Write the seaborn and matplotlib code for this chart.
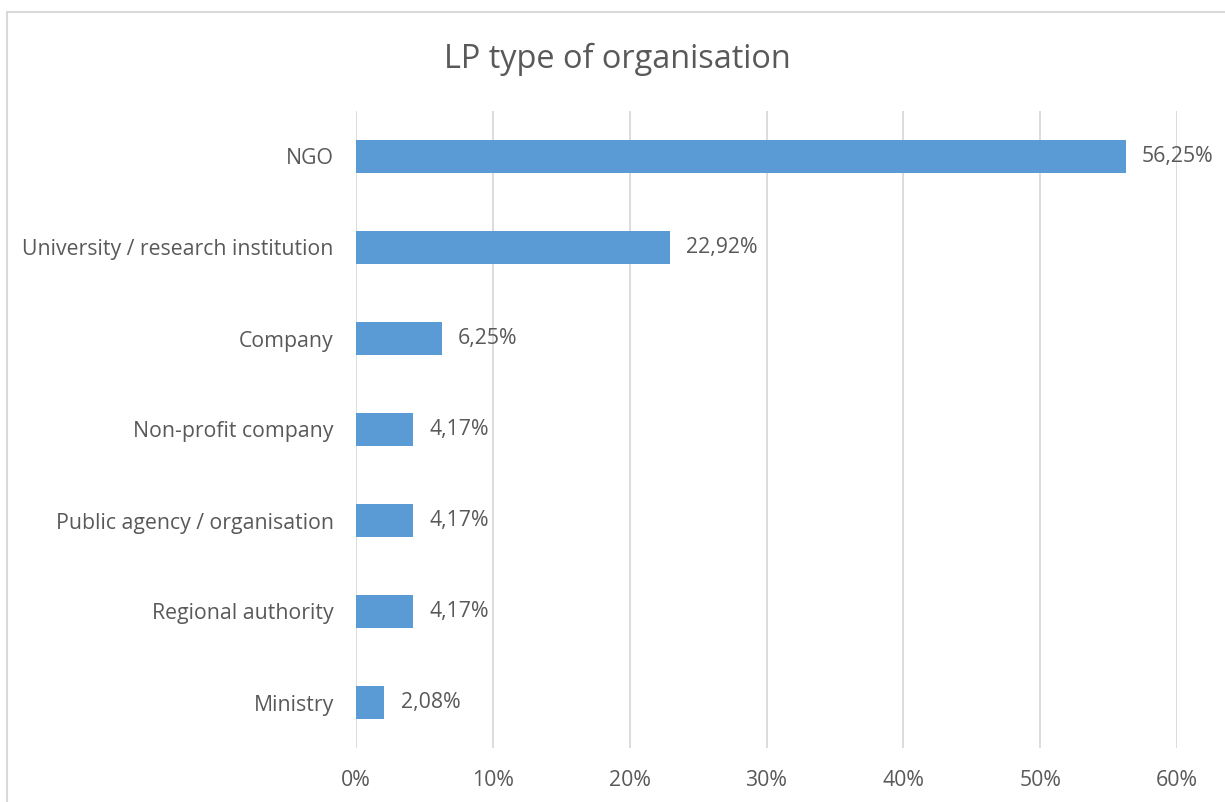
import matplotlib.pyplot as plt
import matplotlib.patches as mpatches
import seaborn as sns
import pandas as pd

categories = ["NGO", "University / research institution", "Company", "Non-profit company",
              "Public agency / organisation", "Regional authority", "Ministry"]
shares = [56.25, 22.92, 6.25, 4.17, 4.17, 4.17, 2.08]
xticks = [0, 10, 20, 30, 40, 50, 60]

df = pd.DataFrame({"type": categories, "share": shares})

sns.set_style("white")
plt.rcParams["font.family"] = ["Open Sans", "DejaVu Sans"]
text_col = "#595959"

fig = plt.figure(figsize=(12.25, 8.02), dpi=100)
ax = fig.add_axes([356 / 1225, 1 - 748 / 802, (1177 - 356) / 1225, (748 - 111) / 802])

sns.barplot(data=df, x="share", y="type", color="#5B9BD5", saturation=1, width=0.37,
            linewidth=0, ax=ax)

for p, v in zip(ax.patches, shares):
    ax.text(p.get_width() + 1.2, p.get_y() + p.get_height() / 2,
            f"{v:.2f}%".replace(".", ","), va="center", ha="left",
            fontsize=15.3, color=text_col)

ax.set_xlim(0, 60)
ax.set_ylim(6.5, -0.5)
ax.set_xticks(xticks)
ax.set_xticklabels([f"{t}%" for t in xticks])
ax.xaxis.grid(True, color="#D9D9D9", linewidth=1.3)
ax.set_axisbelow(True)
for s in ax.spines.values():
    s.set_visible(False)
ax.tick_params(axis="both", length=0, labelsize=15.3, labelcolor=text_col)
ax.tick_params(axis="x", pad=16)
ax.tick_params(axis="y", pad=16)
ax.set_xlabel("")
ax.set_ylabel("")

fig.text(617 / 1225, 1 - 59 / 802, "LP type of organisation", ha="center", va="center",
         fontsize=23.4, color=text_col)

frame = mpatches.Rectangle((7 / 1225, -0.1), 1.2, 1 - 12 / 802 + 0.1, transform=fig.transFigure,
                           fill=False, edgecolor="#D9D9D9", linewidth=1.5, clip_on=False)
fig.patches.append(frame)

plt.savefig("out.png", dpi=100)
plt.close(fig)
